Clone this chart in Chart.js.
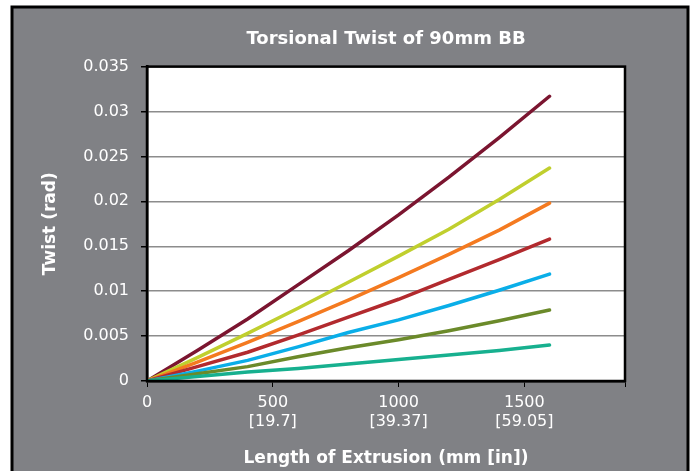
<!DOCTYPE html>
<html>
<head>
<meta charset="utf-8">
<script src="https://cdn.jsdelivr.net/npm/chart.js@4.4.1/dist/chart.umd.min.js"></script>
<style>
body { margin: 0; background: #fff; }
#wrap { width: 700px; height: 471px; }
</style>
</head>
<body>
<div id="wrap"><canvas id="myCanvas"></canvas></div>
<script>
var lengthMm = [0, 200, 400, 600, 800, 1000, 1200, 1400, 1600]

var xTicks      = [0, 500, 1000, 1500]
var xTickInches = ['', '[19.7]', '[39.37]', '[59.05]']

var twistMaroon = [0, 0.0034, 0.0069, 0.0107, 0.0145, 0.0185, 0.0227, 0.0271, 0.0317]
var twistLime   = [0, 0.0026, 0.0053, 0.0081, 0.0110, 0.0139, 0.0169, 0.0202, 0.0237]
var twistOrange = [0, 0.0021, 0.0043, 0.0066, 0.0090, 0.0115, 0.0141, 0.0168, 0.0198]
var twistRed    = [0, 0.0016, 0.0032, 0.0051, 0.0071, 0.0091, 0.0113, 0.0135, 0.0158]
var twistBlue   = [0, 0.0011, 0.0023, 0.0038, 0.0054, 0.0068, 0.0084, 0.0101, 0.0119]
var twistOlive  = [0, 0.0008, 0.0016, 0.0027, 0.0037, 0.0046, 0.0056, 0.0067, 0.0079]
var twistTeal   = [0, 0.0005, 0.0010, 0.0014, 0.0019, 0.0024, 0.0029, 0.0034, 0.0040]

var font = 'DejaVu Sans'

function pts(vals) {
    return vals.map(function (v, i) { return {x: lengthMm[i], y: v} })
}

function series(vals, color) {
    return {
        data: pts(vals),
        borderColor: color,
        borderWidth: 3.5,
        pointRadius: 0,
        fill: false,
        tension: 0,
        borderCapStyle: 'round',
        borderJoinStyle: 'round'
    }
}

// grey card behind the chart + white plot area + black box round it
var framePlugin = {
    id: 'frame',
    beforeDraw: function (chart) {
        var c = chart.ctx, a = chart.chartArea
        c.save()
        c.fillStyle = '#fff'
        c.fillRect(0, 0, chart.width, chart.height)
        c.fillStyle = '#808185'
        c.fillRect(12, 7, 676, chart.height)
        c.strokeStyle = '#000'
        c.lineWidth = 3
        c.beginPath()
        c.moveTo(12, chart.height); c.lineTo(12, 7); c.lineTo(688, 7); c.lineTo(688, chart.height)
        c.stroke()
        c.fillStyle = '#fff'
        c.fillRect(a.left, a.top, a.right - a.left, a.bottom - a.top)
        c.restore()
    },
    afterDraw: function (chart) {
        var c = chart.ctx, a = chart.chartArea
        c.save()
        c.strokeStyle = '#000'
        c.lineWidth = 2.5
        c.strokeRect(a.left, a.top, a.right - a.left, a.bottom - a.top)
        c.restore()
    }
}

var ctx = document.getElementById('myCanvas')
var myChart = new Chart(ctx, {
    type: 'line',
    data: {
        datasets: [
            series(twistTeal, '#17b08f'),
            series(twistOlive, '#6b8a2a'),
            series(twistBlue, '#0aaee8'),
            series(twistRed, '#b22a2e'),
            series(twistOrange, '#f47a20'),
            series(twistLime, '#c0cf2e'),
            series(twistMaroon, '#7b1530')
        ]
    },
    options: {
        responsive: true,
        maintainAspectRatio: false,
        animation: false,
        layout: { padding: { left: 40, right: 75, top: 0, bottom: 0 } },
        plugins: {
            legend: { display: false },
            tooltip: { enabled: false },
            title: {
                display: true,
                text: 'Torsional Twist of 90mm BB',
                color: '#fff',
                fullSize: false,
                font: { family: font, size: 18, weight: 'bold' },
                padding: { top: 29, bottom: 16 }
            }
        },
        scales: {
            x: {
                type: 'linear',
                min: 0,
                max: 1900,
                afterBuildTicks: function (s) {
                    s.ticks = xTicks.concat([1900]).map(function (v) { return {value: v} })
                },
                afterFit: function (s) { s.height = 90 },
                ticks: {
                    color: '#fff',
                    font: { family: font, size: 16 },
                    padding: 6,
                    maxRotation: 0,
                    autoSkip: false,
                    callback: function (v) {
                        var i = xTicks.indexOf(v)
                        if (i < 0) return ''
                        return xTickInches[i] ? [String(v), xTickInches[i]] : String(v)
                    }
                },
                grid: { drawOnChartArea: false, tickColor: '#000', tickLength: 6 },
                border: { color: '#000', width: 2.5 },
                title: {
                    display: true,
                    text: 'Length of Extrusion (mm [in])',
                    color: '#fff',
                    font: { family: font, size: 17, weight: 'bold' },
                    padding: { top: 0, bottom: 2 }
                }
            },
            y: {
                min: 0,
                max: 0.035,
                afterFit: function (s) { s.width = 107 },
                ticks: {
                    stepSize: 0.005,
                    color: '#fff',
                    font: { family: font, size: 16 },
                    padding: 12,
                    callback: function (v) { return String(+v.toFixed(3)) }
                },
                grid: { color: '#8c8c8c', lineWidth: 1.5, tickColor: '#000', tickLength: 6 },
                border: { color: '#000', width: 2.5 },
                title: {
                    display: true,
                    text: 'Twist (rad)',
                    color: '#fff',
                    font: { family: font, size: 17, weight: 'bold' },
                    padding: { top: 0, bottom: 0 }
                }
            }
        }
    },
    plugins: [framePlugin]
});
</script>
</body>
</html>
